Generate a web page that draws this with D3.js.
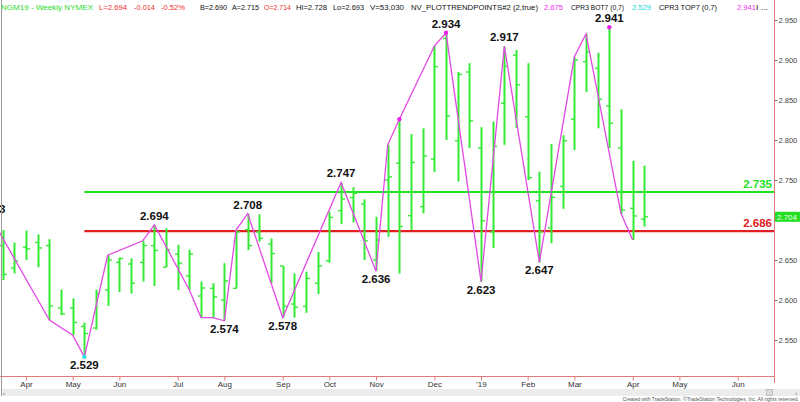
<!DOCTYPE html>
<html><head><meta charset="utf-8">
<script src="https://cdn.jsdelivr.net/npm/d3@7"></script>
<style>
html,body{margin:0;padding:0;background:#fff;}
svg{display:block;font-family:"Liberation Sans",Arial,sans-serif;}
</style></head><body>
<svg id="chart" width="800" height="402"></svg>
<script>
// ---- data ----
const firstWeek = new Date(2018, 2, 23); // first visible weekly bar (Fri)
const opens  = [2.668,2.640,2.666,2.672,2.668,2.590,2.590,2.567,2.565,2.6125,2.647,2.645,2.647,2.668,2.641,2.6575,2.630,2.605,2.6146,2.600,2.6146,2.688,2.685,2.670,2.6425,2.595,2.592,2.621,2.649,2.7117,2.728,2.720,2.650,2.750,2.771,2.7054,2.7167,2.776,2.927,2.799,2.885,2.790,2.685,2.846,2.906,2.829,2.724,2.690,2.742,2.826,2.898,2.8896,2.8425,2.790,2.7146,2.701];
const highs  = [2.6875,2.6717,2.6867,2.682,2.676,2.613,2.602,2.5717,2.613,2.656,2.653,2.652,2.674,2.694,2.6896,2.669,2.663,2.623,2.621,2.646,2.6875,2.708,2.707,2.677,2.6425,2.6333,2.6354,2.660,2.7104,2.747,2.741,2.7258,2.704,2.794,2.826,2.8075,2.8146,2.9175,2.934,2.885,2.896,2.816,2.823,2.917,2.9125,2.896,2.7604,2.795,2.806,2.904,2.9325,2.909,2.941,2.8383,2.774,2.768];
const lows   = [2.625,2.6333,2.650,2.641,2.575,2.581,2.556,2.529,2.563,2.5925,2.610,2.608,2.623,2.6175,2.641,2.6125,2.6125,2.578,2.578,2.574,2.6146,2.6625,2.673,2.621,2.578,2.578,2.584,2.6075,2.6467,2.695,2.697,2.650,2.6367,2.679,2.633,2.6875,2.7083,2.760,2.800,2.748,2.790,2.623,2.665,2.794,2.815,2.750,2.6467,2.671,2.714,2.7875,2.860,2.8146,2.790,2.708,2.675,2.6917];
const closes = [2.632,2.6487,2.664,2.665,2.5925,2.5825,2.572,2.558,2.608,2.650,2.652,2.621,2.668,2.662,2.663,2.646,2.6575,2.615,2.604,2.624,2.685,2.668,2.677,2.658,2.592,2.591,2.627,2.6425,2.7033,2.7263,2.7333,2.674,2.675,2.754,2.692,2.772,2.780,2.8917,2.830,2.882,2.824,2.699,2.792,2.892,2.869,2.753,2.685,2.7283,2.799,2.900,2.910,2.851,2.821,2.7125,2.705,2.704];

// zigzag trend points: bar index (0 = firstWeek) and value
const pivotIdx = [-1,4,6,7,9,12,13,16,17,18,19,20,21,24,29,32,33,34,37,38,41,43,46,49,50,53,54];
const pivotVal = [2.703,2.575,2.556,2.529,2.656,2.674,2.694,2.6125,2.578,2.578,2.574,2.6875,2.708,2.578,2.747,2.636,2.794,2.826,2.9175,2.934,2.623,2.917,2.647,2.904,2.9325,2.708,2.675];

// labelled pivots
const labelIdx = [-1,7,13,19,21,24,29,32,38,41,43,46,52];
const labelVal = [2.703,2.529,2.694,2.574,2.708,2.578,2.747,2.636,2.934,2.623,2.917,2.647,2.941];
const labelPos = ["up","down","up","down","up","down","up","down","up","down","up","down","up"];

const magentaDotIdx = [34,38,52];
const magentaDotVal = [2.826,2.934,2.941];
const cyanDotIdx = [7];
const cyanDotVal = [2.529];

const levels = [2.735, 2.686];
const levelColors = ["#22e022","#e02020"];
const levelStartIdx = 7;
const lastPrice = 2.704;

const yTicks = [2.55,2.60,2.65,2.75,2.80,2.85,2.90,2.95];
const monthTicks = [
  [2018,3,6,"Apr"],[2018,4,4,"May"],[2018,5,1,"Jun"],[2018,6,6,"Jul"],[2018,7,3,"Aug"],
  [2018,8,7,"Sep"],[2018,9,5,"Oct"],[2018,10,2,"Nov"],[2018,11,7,"Dec"],[2019,0,4,"'19"],
  [2019,1,1,"Feb"],[2019,2,1,"Mar"],[2019,3,5,"Apr"],[2019,4,3,"May"],[2019,5,7,"Jun"]
];

const header = [
  {x:1,t:"NGM19 - Weekly  NYMEX",c:"#2edc2e",w:92},
  {x:99,t:"L=2.694",c:"#ee3030",w:28},{x:134,t:"-0.014",c:"#ee3030",w:21},{x:161,t:"-0.52%",c:"#ee3030",w:24},
  {x:200,t:"B=2.690",c:"#111",w:27},{x:232,t:"A=2.715",c:"#111",w:27},{x:264,t:"O=2.714",c:"#ee3030",w:27},
  {x:296,t:"Hi=2.728",c:"#111",w:31},{x:333,t:"Lo=2.693",c:"#111",w:31},{x:370,t:"V=53,030",c:"#111",w:34},
  {x:411,t:"NV_PLOTTRENDPOINTS#2 (2,true)",c:"#111",w:127},{x:544,t:"2.675",c:"#ee30ee",w:19},
  {x:571,t:"CPR3 BOT7 (0,7)",c:"#111",w:53},{x:632,t:"2.529",c:"#22d8d8",w:19},
  {x:659,t:"CPR3 TOP7 (0,7)",c:"#111",w:58},{x:737,t:"2.941",c:"#ee30ee",w:19},{x:756,t:"I ...",c:"#111",w:12}
];

// ---- scales ----
const dates = opens.map((_, i) => d3.timeWeek.offset(firstWeek, i));
const dateOf = i => d3.timeWeek.offset(firstWeek, i);
const x = d3.scaleTime()
  .domain([firstWeek, new Date(2019, 5, 28)])
  .range([2.7, 772.7]);
const y = d3.scaleLinear().domain([2.5, 2.95]).range([380, 20]);

const svg = d3.select("#chart");
const plotRight = 774, plotBottom = 376;

svg.append("defs").append("clipPath").attr("id","plot")
  .append("rect").attr("x",0).attr("y",12).attr("width",plotRight).attr("height",plotBottom-12);

const g = svg.append("g").attr("clip-path","url(#plot)");

// level lines
levels.forEach((lv,k)=>{
  g.append("line").attr("x1",x(dateOf(levelStartIdx))).attr("x2",plotRight)
    .attr("y1",y(lv)).attr("y2",y(lv)).attr("stroke",levelColors[k]).attr("stroke-width",2.2);
});

// OHLC bars
const barG = g.append("g").attr("stroke","#35ea35");
dates.forEach((d,i)=>{
  const cx = Math.round(x(d)) + 0.5;
  barG.append("line").attr("x1",cx).attr("x2",cx).attr("y1",y(highs[i])).attr("y2",y(lows[i])).attr("stroke-width",2);
  barG.append("line").attr("x1",cx-3.5).attr("x2",cx).attr("y1",y(opens[i])).attr("y2",y(opens[i])).attr("stroke-width",1.4);
  barG.append("line").attr("x1",cx).attr("x2",cx+3.5).attr("y1",y(closes[i])).attr("y2",y(closes[i])).attr("stroke-width",1.4);
});

// zigzag
const zz = pivotIdx.map((p,k)=>[x(dateOf(p)), y(pivotVal[k])]);
g.append("path").attr("d", d3.line()(zz)).attr("fill","none")
  .attr("stroke","#e448e4").attr("stroke-width",1.3);

// dots
magentaDotIdx.forEach((p,k)=>{
  g.append("circle").attr("cx",x(dateOf(p))).attr("cy",y(magentaDotVal[k])).attr("r",2.2).attr("fill","#ee22ee");
});
cyanDotIdx.forEach((p,k)=>{
  g.append("circle").attr("cx",x(dateOf(p))).attr("cy",y(cyanDotVal[k])).attr("r",2.2).attr("fill","#33dddd");
});

// pivot labels
labelIdx.forEach((p,k)=>{
  const up = labelPos[k]==="up";
  svg.append("text").attr("x",x(dateOf(p))).attr("y", y(labelVal[k]) + (up ? -5 : 12))
    .attr("text-anchor","middle").attr("font-size","11.5px").attr("font-weight","bold")
    .attr("fill","#111").text(labelVal[k].toFixed(3));
});

// level labels
levels.forEach((lv,k)=>{
  svg.append("text").attr("x",772).attr("y",y(lv)-4).attr("text-anchor","end")
    .attr("font-size","11.5px").attr("font-weight","bold").attr("fill",levelColors[k]).text(lv.toFixed(3));
});

// frame lines
svg.append("line").attr("x1",plotRight+0.5).attr("x2",plotRight+0.5).attr("y1",0).attr("y2",383).attr("stroke","#e07a7a").attr("stroke-width",1);
svg.append("line").attr("x1",0).attr("x2",plotRight).attr("y1",plotBottom+0.5).attr("y2",plotBottom+0.5).attr("stroke","#e07a7a").attr("stroke-width",1);
svg.append("line").attr("x1",1.5).attr("x2",1.5).attr("y1",0).attr("y2",396).attr("stroke","#999").attr("stroke-width",1);

// right axis
const yAxis = d3.axisRight(y).tickValues(yTicks).tickFormat(d3.format(".3f")).tickSize(3).tickPadding(1);
const ya = svg.append("g").attr("transform",`translate(${plotRight+0.5},0)`).call(yAxis);
ya.select(".domain").remove();
ya.selectAll("line").attr("stroke","#777");
ya.selectAll("text").attr("font-size","7.5px").attr("fill","#444").attr("font-family","Liberation Sans, Arial, sans-serif");

// last price marker
svg.append("rect").attr("x",plotRight+1).attr("y",y(lastPrice)-5).attr("width",26).attr("height",10).attr("fill","#22e022");
svg.append("text").attr("x",plotRight+3).attr("y",y(lastPrice)+3).attr("font-size","8px").attr("fill","#f4fff4").text(lastPrice.toFixed(3));

// bottom axis
const tickDates = monthTicks.map(m=>new Date(m[0],m[1],m[2]));
const tickNames = monthTicks.map(m=>m[3]);
const xAxis = d3.axisBottom(x).tickValues(tickDates)
  .tickFormat((d,i)=>tickNames[i]).tickSize(4).tickPadding(1);
const xa = svg.append("g").attr("transform",`translate(0,${plotBottom+0.5})`).call(xAxis);
xa.select(".domain").remove();
xa.selectAll("line").attr("stroke","#e07a7a");
xa.selectAll("text").attr("font-size","8px").attr("fill","#333").attr("font-family","Liberation Sans, Arial, sans-serif");
svg.append("line").attr("x1",plotRight+0.5).attr("x2",plotRight+0.5).attr("y1",370).attr("y2",380).attr("stroke","#e07a7a");

// scrollbar
svg.append("rect").attr("x",2).attr("y",389).attr("width",798).attr("height",7).attr("fill","#ececec");
svg.append("rect").attr("x",766.5).attr("y",389.5).attr("width",6).attr("height",6).attr("fill","#dcdcdc").attr("stroke","#aaa").attr("stroke-width",0.6);
svg.append("text").attr("x",3).attr("y",395).attr("font-size","6px").attr("fill","#555").text("‹");
svg.append("text").attr("x",795).attr("y",395).attr("font-size","6px").attr("fill","#555").text("›");
svg.append("text").attr("x",799).attr("y",401).attr("text-anchor","end").attr("font-size","5px").attr("fill","#555")
  .text("Created with TradeStation. ©TradeStation Technologies, Inc. All rights reserved.");

// header
const hg = svg.append("g").attr("font-size","7px");
header.forEach(h=>{
  hg.append("text").attr("x",h.x).attr("y",10).attr("fill",h.c)
    .attr("textLength",h.w).attr("lengthAdjust","spacingAndGlyphs").text(h.t);
});
</script>
</body></html>
